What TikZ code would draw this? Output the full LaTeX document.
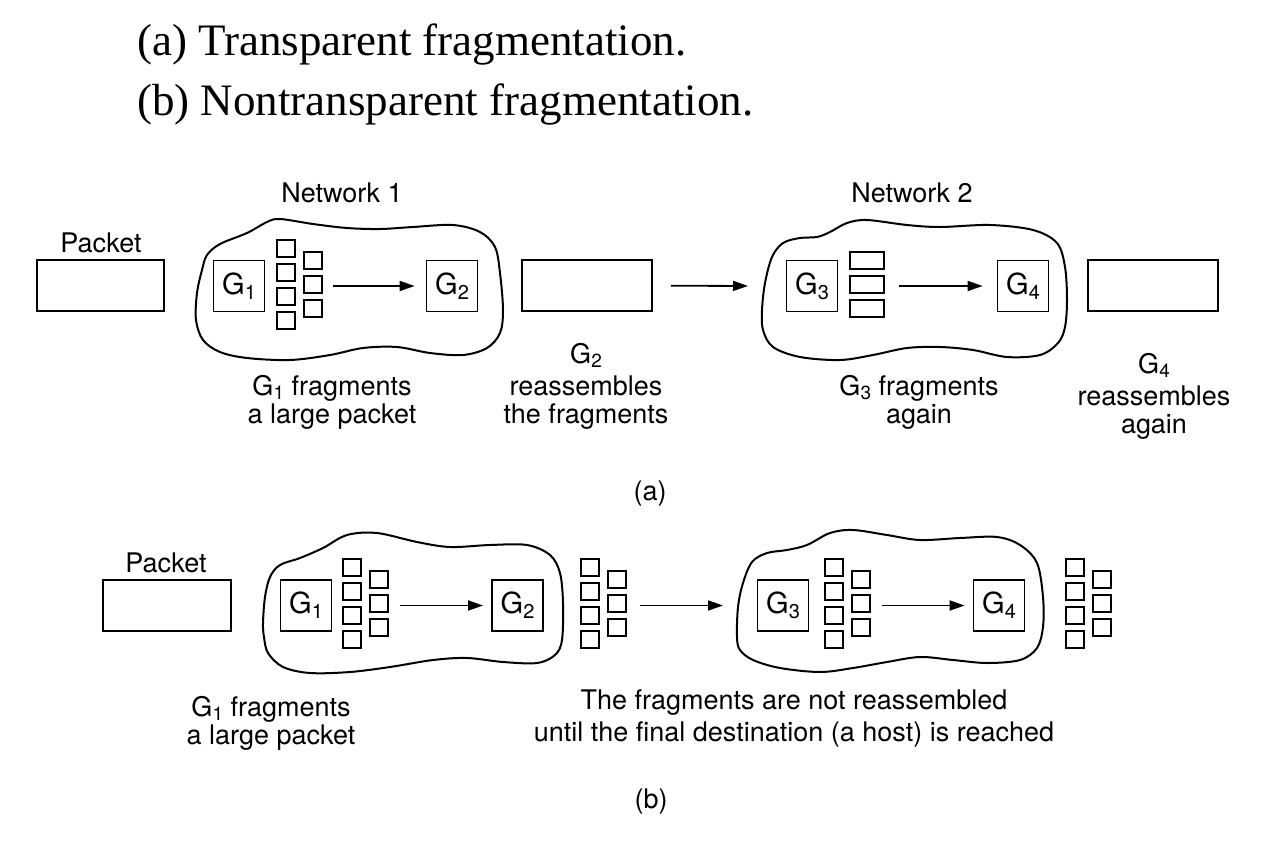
\documentclass[tikz,border=0pt]{standalone}
\usepackage{fontspec}
\setmainfont{Liberation Serif}
\newfontfamily\helv{TeX Gyre Heros}
\usetikzlibrary{arrows.meta}
\newcommand{\gsub}[2][19]{G\kern0.3pt\raisebox{-0.32ex}{\fontsize{#1}{#1}\selectfont #2}}
\tikzset{
  lbl/.style={font=\helv\fontsize{27}{29}\selectfont, inner sep=0pt, anchor=base},
  ttl/.style={font=\fontsize{45}{45}\selectfont, inner sep=0pt, anchor=base west},
  gbox/.style={draw, line width=1.8pt, minimum width=51pt, minimum height=51pt, inner sep=0pt,
               font=\helv\fontsize{29}{29}\selectfont},
  pkt/.style={draw, line width=1.8pt, minimum height=51pt, inner sep=0pt},
  arr/.style={line width=1.8pt, -{Triangle[length=15pt,width=10pt]}},
  cloud/.style={line width=2pt, line join=round},
  frag/.style={line width=1.7pt},
  frag7/.pic={
    \foreach \yy in {0,24,48,72} \draw[frag] (0,\yy) rectangle +(18,17);
    \foreach \yy in {12,36,60} \draw[frag] (27,\yy) rectangle +(18,17);
    \coordinate (-e) at (45,44.5);
  },
  frag3/.pic={
    \foreach \yy in {0,24,48} \draw[frag] (0,\yy) rectangle +(34,17);
    \coordinate (-e) at (34,32.5);
  }
}
\begin{document}
\begin{tikzpicture}[x=1pt,y=-1pt]
\useasboundingbox (0,0) rectangle (1272,844);

% titles
\node[ttl] (t1) at (137,55) {(a) Transparent fragmentation.};
\node[ttl] (t2) at (137,115) {(b) Nontransparent fragmentation.};

% ---------------- (a) ----------------
\node[lbl] (pka) at (101,252) {Packet};
\node[pkt, minimum width=127pt] (Pa) at (100.5,285.5) {};
\node[lbl] (n1) at (342,202) {Network 1};
\node[lbl] (n2) at (912,202) {Network 2};

\draw[cloud] plot[smooth cycle, tension=0.55] coordinates {
 (197,293) (202,270) (207,255) (220,244) (247,233) (267,222) (280,219) (313,224) (347,228)
 (380,229) (413,227) (453,225) (480,232) (495,247) (500,273) (503,310) (500,333) (487,348)
 (463,355) (430,353) (397,347) (363,348) (330,355) (290,360) (247,358) (220,352) (203,340) (196,320)};

\node[gbox] (G1a) at (239,286) {\gsub[20]{1}};
\node[gbox] (G2a) at (452,286) {\gsub[20]{2}};
\pic (F1a) at (277,240) {frag7};
\draw[arr, shorten <=11pt, shorten >=11pt] (F1a-e |- G2a) -- (G2a);

\node[pkt, minimum width=130pt] (R2a) at (587,285.5) {};
\coordinate (C2aw) at (763,286);
\draw[arr, shorten <=18pt, shorten >=15pt] (R2a) -- (C2aw);

\draw[cloud] plot[smooth cycle, tension=0.55] coordinates {
 (762,310) (765,283) (772,257) (783,243) (800,238) (817,237) (830,232) (847,223) (867,220)
 (907,225) (940,227) (990,225) (1033,230) (1057,243) (1065,267) (1067,300) (1065,327)
 (1058,343) (1040,355) (1007,357) (973,350) (940,347) (907,348) (873,355) (840,360)
 (800,357) (773,347) (763,330)};

\node[gbox] (G3a) at (812,286) {\gsub[20]{3}};
\node[gbox] (G4a) at (1023,286) {\gsub[20]{4}};
\pic (F3a) at (850,252) {frag3};
\draw[arr, shorten <=15pt, shorten >=14pt] (F3a-e |- G4a) -- (G4a);

\node[pkt, minimum width=130pt] (R3a) at (1153,285.5) {};

\node[lbl] (l1a) at (332,395) {\gsub{1} fragments};
\node[lbl] (l1b) at (332,423) {a large packet};
\node[lbl] (l2a) at (586,363) {\gsub{2}};
\node[lbl] (l2b) at (586,395) {reassembles};
\node[lbl] (l2c) at (586,423) {the fragments};
\node[lbl] (l3a) at (919,395) {\gsub{3} fragments};
\node[lbl] (l3b) at (919,423) {again};
\node[lbl] (l4a) at (1154,373) {\gsub{4}};
\node[lbl] (l4b) at (1154,405) {reassembles};
\node[lbl] (l4c) at (1154,433) {again};
\node[lbl] (capa) at (650,500) {(a)};

% ---------------- (b) ----------------
\node[lbl] (pkb) at (166,572) {Packet};
\node[pkt, minimum width=128pt] (Pb) at (167,605.5) {};

\draw[cloud] plot[smooth cycle, tension=0.55] coordinates {
 (263,623) (265,597) (270,577) (280,565) (300,558) (323,548) (347,535) (377,533) (417,542)
 (450,547) (490,545) (527,545) (550,555) (560,573) (563,603) (562,640) (555,655) (537,663)
 (503,662) (467,658) (433,660) (390,667) (350,672) (310,673) (283,667) (268,653) (264,637)};

\node[gbox] (G1b) at (306,605.5) {\gsub[20]{1}};
\node[gbox] (G2b) at (517.5,605.5) {\gsub[20]{2}};
\pic (F1b) at (343,559) {frag7};
\draw[arr, shorten <=12pt, shorten >=8pt] (F1b-e |- G2b) -- (G2b);

\pic (O1b) at (581,559) {frag7};
\coordinate (C2bw) at (738,605.5);
\draw[arr, shorten <=14pt, shorten >=15pt] (O1b-e |- C2bw) -- (C2bw);

\draw[cloud] plot[smooth cycle, tension=0.55] coordinates {
 (737,637) (738,607) (743,583) (752,562) (767,553) (787,550) (807,545) (830,533) (853,530)
 (887,535) (920,540) (960,538) (997,537) (1020,545) (1037,563) (1043,597) (1043,627)
 (1037,648) (1020,660) (987,663) (953,660) (920,657) (887,662) (853,668) (820,672)
 (780,668) (753,660) (740,650)};

\node[gbox] (G3b) at (783,605.5) {\gsub[20]{3}};
\node[gbox] (G4b) at (999,605.5) {\gsub[20]{4}};
\pic (F2b) at (825,559) {frag7};
\draw[arr, shorten <=12pt, shorten >=8pt] (F2b-e |- G4b) -- (G4b);

\pic (O2b) at (1066,559) {frag7};

\node[lbl] (m1a) at (271,716) {\gsub{1} fragments};
\node[lbl] (m1b) at (271,744) {a large packet};
\node[lbl] (m2a) at (794,709) {The fragments are not reassembled};
\node[lbl] (m2b) at (794,741) {until the final destination (a host) is reached};
\node[lbl] (capb) at (651,808) {(b)};
\end{tikzpicture}
\end{document}
